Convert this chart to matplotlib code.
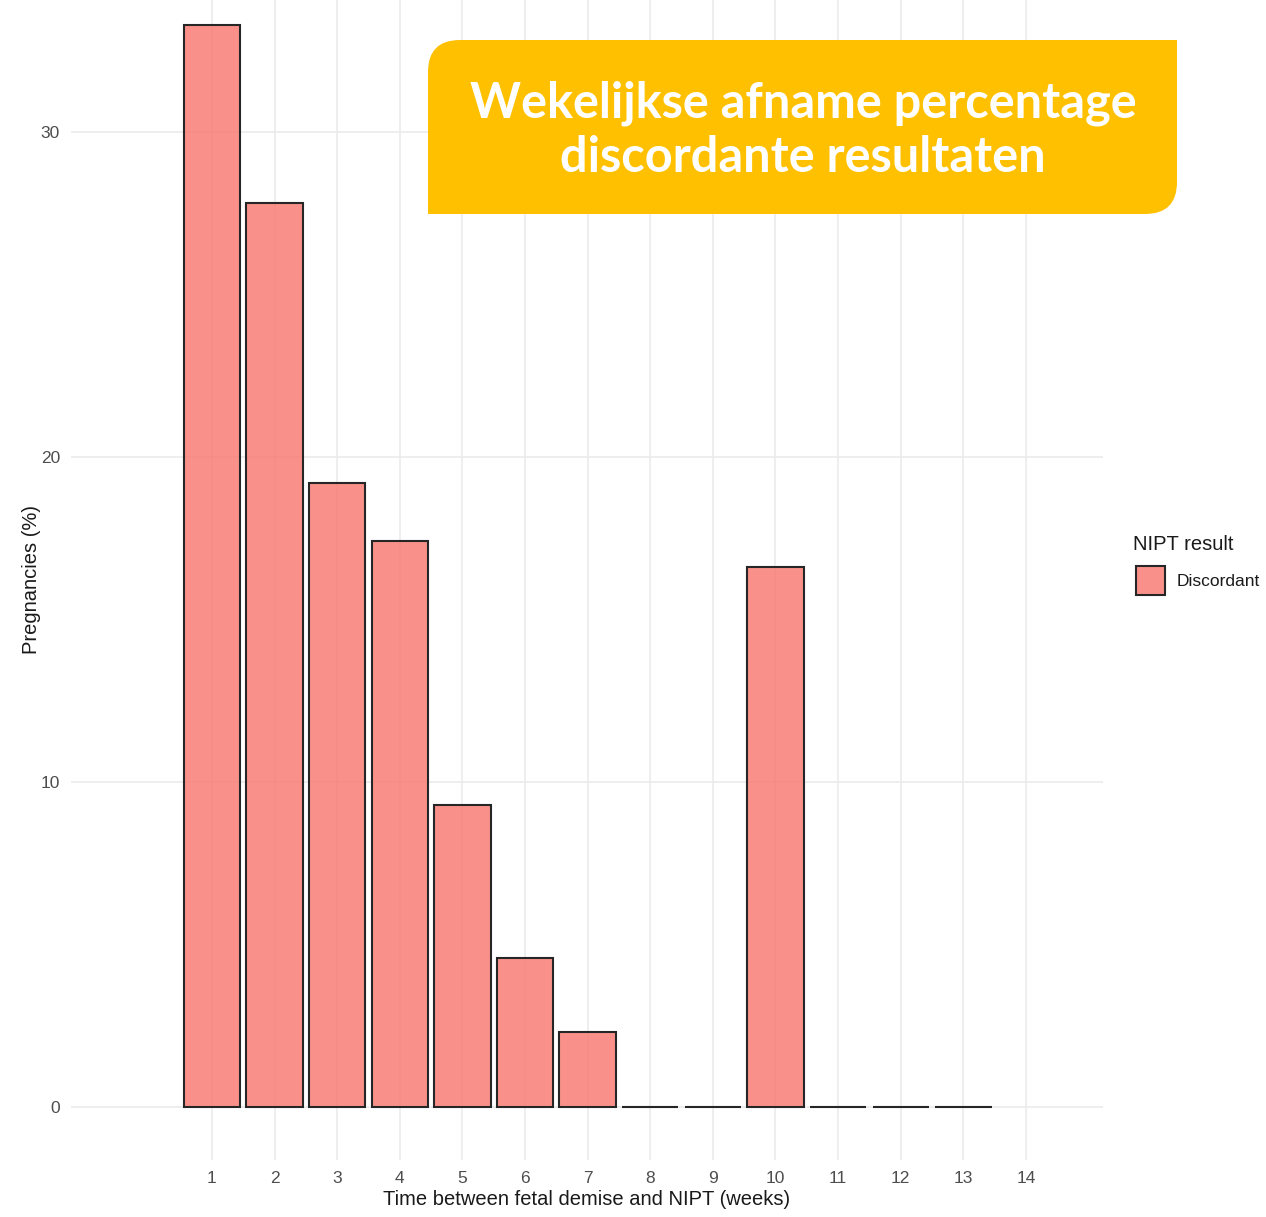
import matplotlib
matplotlib.use("Agg")
import matplotlib.pyplot as plt
from matplotlib.path import Path
from matplotlib.patches import PathPatch, Rectangle

# data
weeks = [1, 2, 3, 4, 5, 6, 7, 8, 9, 10, 11, 12, 13]
discordant_pct = [33.3, 27.8, 19.2, 17.4, 9.3, 4.6, 2.3, 0, 0, 16.6, 0, 0, 0]
x_ticks = list(range(1, 15))
y_ticks = [0, 10, 20, 30]

bar_color = "#F8766D"
W, H = 1266, 1217

plt.rcParams['font.family'] = ['Liberation Sans', 'DejaVu Sans']

fig = plt.figure(figsize=(W / 100, H / 100), dpi=100)
ax = fig.add_axes([71 / W, 1 - 1160 / H, (1103 - 71) / W, 1160 / H])

ax.bar(weeks, discordant_pct, width=0.9, color=bar_color, alpha=0.8,
       edgecolor="none", zorder=3)
# outline drawn separately so the edges stay dark
ax.bar(weeks, discordant_pct, width=0.9, color="none",
       edgecolor="#262626", linewidth=1.5, zorder=4)

ax.set_xlim(-1.25, 15.23)
ax.set_ylim(-1.63, 34.06)
ax.set_xticks(x_ticks)
ax.set_yticks(y_ticks)
ax.grid(True, color="#ebebeb", linewidth=1.2, zorder=0)
for s in ax.spines.values():
    s.set_visible(False)
ax.tick_params(length=0, labelsize=12.5, labelcolor="#4d4d4d", pad=8)
ax.tick_params(axis='y', pad=8)
ax.set_xlabel("Time between fetal demise and NIPT (weeks)", fontsize=14.5,
              color="#1a1a1a", labelpad=3)
ax.set_ylabel("Pregnancies (%)", fontsize=14.5, color="#1a1a1a", labelpad=0)

# overlay in pixel coordinates for legend and title box
ov = fig.add_axes([0, 0, 1, 1], zorder=10)
ov.set_xlim(0, W)
ov.set_ylim(H, 0)
ov.axis("off")

# legend
ov.text(1133, 545, "NIPT result", fontsize=14.5, color="#1a1a1a", va="center", ha="left")
ov.add_patch(Rectangle((1136, 566), 29, 29, facecolor=bar_color, alpha=0.8,
                       edgecolor="none"))
ov.add_patch(Rectangle((1136, 566), 29, 29, facecolor="none",
                       edgecolor="#262626", linewidth=1.5))
ov.text(1177, 581, "Discordant", fontsize=12.5, color="#1a1a1a", va="center", ha="left")

# yellow title box with two rounded corners (top-left, bottom-right)
x0, x1, y0, y1, r = 428, 1177, 40, 214, 32
verts = [
    (x0 + r, y0), (x1, y0), (x1, y1 - r),
    (x1, y1), (x1 - r, y1),
    (x0, y1), (x0, y0 + r),
    (x0, y0), (x0 + r, y0),
]
codes = [Path.MOVETO, Path.LINETO, Path.LINETO,
         Path.CURVE3, Path.CURVE3,
         Path.LINETO, Path.LINETO,
         Path.CURVE3, Path.CURVE3]
ov.add_patch(PathPatch(Path(verts, codes), facecolor="#FFC000", edgecolor="none"))
ov.text(803, 117, "Wekelijkse afname percentage", fontsize=35, fontweight="bold",
        family=["Lato", "DejaVu Sans"], color="white", ha="center", va="baseline")
ov.text(803, 172, "discordante resultaten", fontsize=35, fontweight="bold",
        family=["Lato", "DejaVu Sans"], color="white", ha="center", va="baseline")

fig.savefig("out.png", dpi=100)
